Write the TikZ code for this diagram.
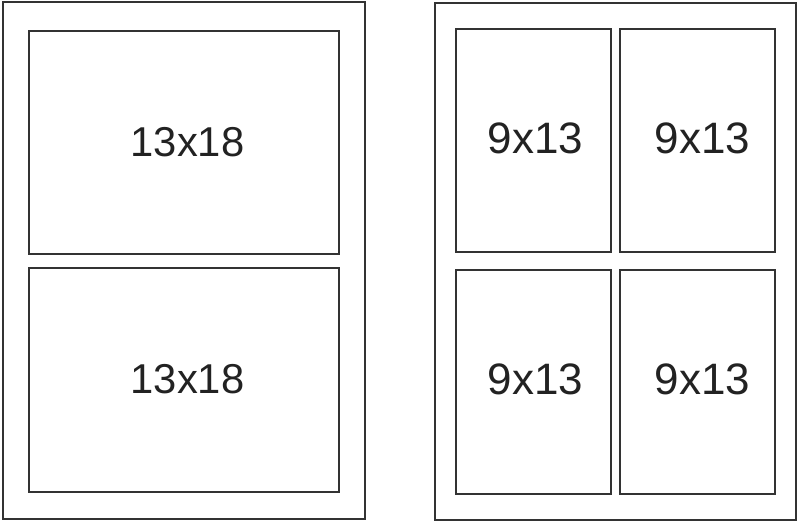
\documentclass[tikz,border=0pt]{standalone}
\usepackage{fontspec}
\setmainfont{Liberation Sans}
\usepackage{xcolor}
\definecolor{framegray}{HTML}{333333}
\definecolor{textgray}{HTML}{222222}
\tikzset{
photo/.style 2 args = {rectangle, draw=framegray, line width=1.5pt, inner sep=0pt, minimum width=#1*0.75pt, minimum height=#2*0.75pt},
photo/.default = {310}{223}, % size in pixels of the reference
size/.style = {text=textgray, inner sep=0pt, font=\fontsize{#1}{#1}\selectfont},
size/.default = 33,
}

\begin{document}
\begin{tikzpicture}[x=0.75pt, y=-0.75pt]
    \useasboundingbox (0,0) rectangle (800,523);

    % the two sheets
    \node[photo={362}{517}] (sheetL) at (184,261) {};
    \node[photo={361}{517}] (sheetR) at (615.5,261.5) {};

    % left sheet: two 13x18
    \node[photo={310}{223}] (bigTop) at (184,142.5) {};
    \node[photo={310}{224}] (bigBot) at (184,380) {};
    \node[size=31.3] (bigTopTxt) at (187.5,142.5) {13x18};
    \node[size=31.3] (bigBotTxt) at (187.5,379.5) {13x18};

    % right sheet: four 9x13
    \node[photo={155}{223}] (smallTL) at (533.5,140.5) {};
    \node[photo={155}{223}] (smallTR) at (697.5,140.5) {};
    \node[photo={155}{224}] (smallBL) at (533.5,382) {};
    \node[photo={155}{224}] (smallBR) at (697.5,382) {};
    \node[size] (smallTLTxt) at (535.5,138) {9x13};
    \node[size] (smallTRTxt) at (702.5,138) {9x13};
    \node[size] (smallBLTxt) at (535.5,379) {9x13};
    \node[size] (smallBRTxt) at (702.5,379) {9x13};

\end{tikzpicture}
\end{document}
